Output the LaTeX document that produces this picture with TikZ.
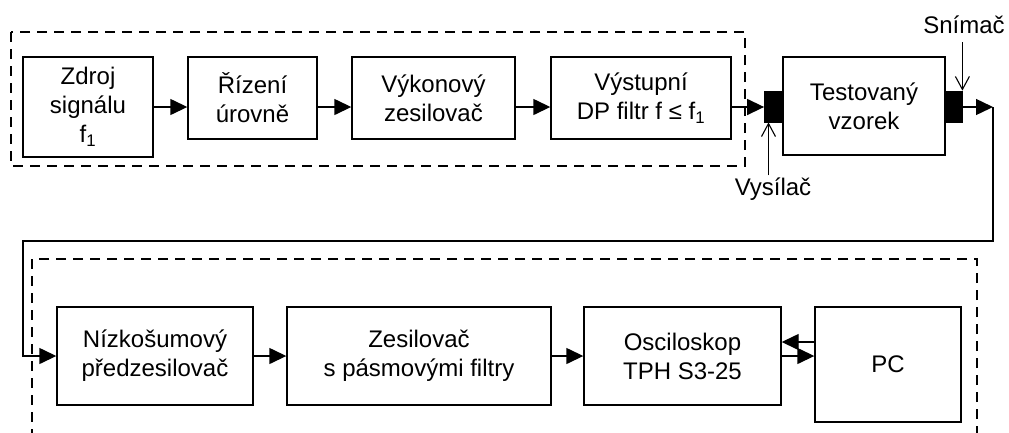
\documentclass[tikz,border=0pt]{standalone}
\usepackage{fontspec}
\setmainfont{Liberation Sans}
\usetikzlibrary{arrows.meta,calc}
\begin{document}
\begin{tikzpicture}[x=1pt,y=-1pt,
  box/.style={draw, line width=1.4pt, inner sep=0pt, align=center, font=\fontsize{24}{29}\selectfont},
  sensor/.style={draw, fill=black, line width=0.8pt, inner sep=0pt, minimum width=18, minimum height=31},
  arr/.style={line width=1.4pt, -{Triangle[length=17pt,width=16pt]}},
  sens/.style={line width=1.1pt, -{Straight Barb[length=13pt,width=14pt]}},
  frame/.style={line width=1.3pt, dash pattern=on 10pt off 7pt},
  lbl/.style={font=\fontsize{24}{29}\selectfont, inner sep=0pt}]
\clip (0,0) rectangle (1009,432);
\fill[white] (0,0) rectangle (1009,432);
% dashed frames
\draw[frame] (11,32) rectangle (745,166);
\draw[frame] (32,259) rectangle (977,470);
% top row
\node[box, minimum width=130, minimum height=100] (zdroj) at (88,107) {Zdroj\\signálu\\f\textsubscript{1}};
\node[box, minimum width=129, minimum height=82] (rizeni) at (252.5,98) {Řízení\\úrovně};
\node[box, minimum width=163, minimum height=82] (vykon) at (433.5,98) {Výkonový\\zesilovač};
\node[box, minimum width=180, minimum height=82] (filtr) at (641,98) {Výstupní\\DP filtr f ≤ f\textsubscript{1}};
\node[box, minimum width=162, minimum height=98] (test) at (864,106) {Testovaný\\vzorek};
\node[sensor] (vys) at (773.5,106.5) {};
\node[sensor, minimum width=17] (snim) at (953.5,106.5) {};
% sensor labels
\node[lbl] (snl) at (964,25) {Snímač};
\node[lbl] (vyl) at (773,189) {Vysílač};
\draw[sens] ($(snl.south -| snim.north east)+(0,8)$) -- (snim.north east);
\draw[sens] ($(vyl.north -| vys.south)+(-5,-2)$) -- ($(vys.south)+(-5,0)$);
% top arrows
\draw[arr] (zdroj.east) -- (zdroj.east -| rizeni.west);
\draw[arr] (rizeni.east |- zdroj.east) -- (vykon.west |- zdroj.east);
\draw[arr] (vykon.east |- zdroj.east) -- (filtr.west |- zdroj.east);
\draw[arr] (filtr.east |- zdroj.east) -- (vys.west |- zdroj.east);
\coordinate (turn) at (993,107);
\coordinate (ret) at (23,241);
\draw[arr] (snim.east |- zdroj.east) -- (turn);
% bottom row
\node[box, minimum width=196, minimum height=98] (nizko) at (155,356) {Nízkošumový\\předzesilovač};
\node[box, minimum width=264, minimum height=98] (zes) at (419,356) {Zesilovač\\s pásmovými filtry};
\node[box, minimum width=197, minimum height=98] (osc) at (682.5,356) {Osciloskop\\TPH S3-25};
\node[box, minimum width=146, minimum height=115] (pc) at (888,364.5) {PC};
% return path
\draw[arr] (turn) -- (turn |- ret) -- (ret) -- (ret |- nizko.west) -- (nizko.west);
% bottom arrows
\draw[arr] (nizko.east) -- (zes.west);
\draw[arr] (zes.east) -- (osc.west);
\draw[arr] (osc.east) -- (osc.east -| pc.west);
\draw[arr] ($(osc.east -| pc.west)+(0,-14)$) -- ($(osc.east)+(0,-14)$);
\end{tikzpicture}
\end{document}
